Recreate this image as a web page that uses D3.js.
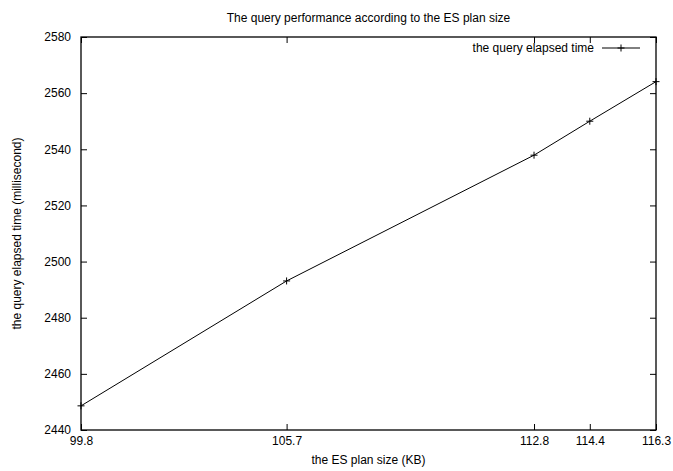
<!DOCTYPE html>
<html>
<head>
<meta charset="utf-8">
<script src="https://cdn.jsdelivr.net/npm/d3@7"></script>
<style>
  html, body { margin: 0; padding: 0; background: #fff; }
  svg text { font-family: "Liberation Sans", Arial, Helvetica, sans-serif; fill: #000; }
</style>
</head>
<body>
<svg id="chart"></svg>
<script>
// plan size (KB) vs elapsed time (ms)
const planSizes = [99.8, 105.7, 112.8, 114.4, 116.3];
const elapsedMs = [2448.6, 2493.1, 2537.9, 2550.0, 2564.1];
const yTicks = [2440, 2460, 2480, 2500, 2520, 2540, 2560, 2580];
const seriesName = "the query elapsed time";

const W = 673, H = 471;
const margin = { top: 37, right: 17, bottom: 41, left: 81 };
const iw = W - margin.left - margin.right;
const ih = H - margin.top - margin.bottom;

const svg = d3.select("#chart").attr("width", W).attr("height", H);
const g = svg.append("g").attr("transform", `translate(${margin.left},${margin.top})`);

const x = d3.scaleLinear().domain([99.8, 116.3]).range([0, iw]);
const y = d3.scaleLinear().domain([2440, 2580]).range([ih, 0]);

const tk = 6; // gnuplot style inward ticks

function styleAxis(sel, hideText) {
  sel.select(".domain").remove();
  sel.selectAll(".tick line").attr("stroke", "#000");
  sel.selectAll("text").style("font-size", "12px");
  if (hideText) sel.selectAll("text").remove();
}

g.append("g").attr("transform", `translate(0,${ih})`)
  .call(d3.axisBottom(x).tickValues(planSizes).tickFormat(d3.format(".1f")).tickSizeInner(-tk).tickSizeOuter(0).tickPadding(6))
  .call(s => styleAxis(s, false));
g.append("g")
  .call(d3.axisTop(x).tickValues(planSizes).tickSizeInner(-tk).tickSizeOuter(0))
  .call(s => styleAxis(s, true));
g.append("g")
  .call(d3.axisLeft(y).tickValues(yTicks).tickFormat(d3.format("d")).tickSizeInner(-tk).tickSizeOuter(0).tickPadding(10))
  .call(s => styleAxis(s, false));
g.append("g").attr("transform", `translate(${iw},0)`)
  .call(d3.axisRight(y).tickValues(yTicks).tickSizeInner(-tk).tickSizeOuter(0))
  .call(s => styleAxis(s, true));

// border
g.append("rect").attr("width", iw).attr("height", ih)
  .attr("fill", "none").attr("stroke", "#000").attr("stroke-width", 1.3);

const pts = planSizes.map((d, i) => [x(d), y(elapsedMs[i])]);

g.append("path")
  .attr("d", d3.line()(pts))
  .attr("fill", "none").attr("stroke", "#000").attr("stroke-width", 1);

const plus = (sel, cx, cy) => sel.append("path")
  .attr("d", `M${cx - 3.5},${cy}H${cx + 3.5}M${cx},${cy - 3.5}V${cy + 3.5}`)
  .attr("stroke", "#000").attr("stroke-width", 1);

pts.forEach(p => plus(g, p[0], p[1]));

// legend
const ly = 48;
svg.append("text").attr("x", 594).attr("y", ly).attr("dy", "0.35em")
  .attr("text-anchor", "end").style("font-size", "12px").text(seriesName);
svg.append("line").attr("x1", 602).attr("x2", 640).attr("y1", ly).attr("y2", ly)
  .attr("stroke", "#000");
plus(svg, 621, ly);

// titles
svg.append("text").attr("x", margin.left + iw / 2).attr("y", 18).attr("dy", "0.35em")
  .attr("text-anchor", "middle").style("font-size", "12px")
  .text("The query performance according to the ES plan size");
svg.append("text").attr("x", margin.left + iw / 2).attr("y", 460).attr("dy", "0.35em")
  .attr("text-anchor", "middle").style("font-size", "12px")
  .text("the ES plan size (KB)");
svg.append("text").attr("transform", `translate(17,${margin.top + ih / 2}) rotate(-90)`)
  .attr("dy", "0.35em").attr("text-anchor", "middle").style("font-size", "12px")
  .text("the query elapsed time (millisecond)");
</script>
</body>
</html>
